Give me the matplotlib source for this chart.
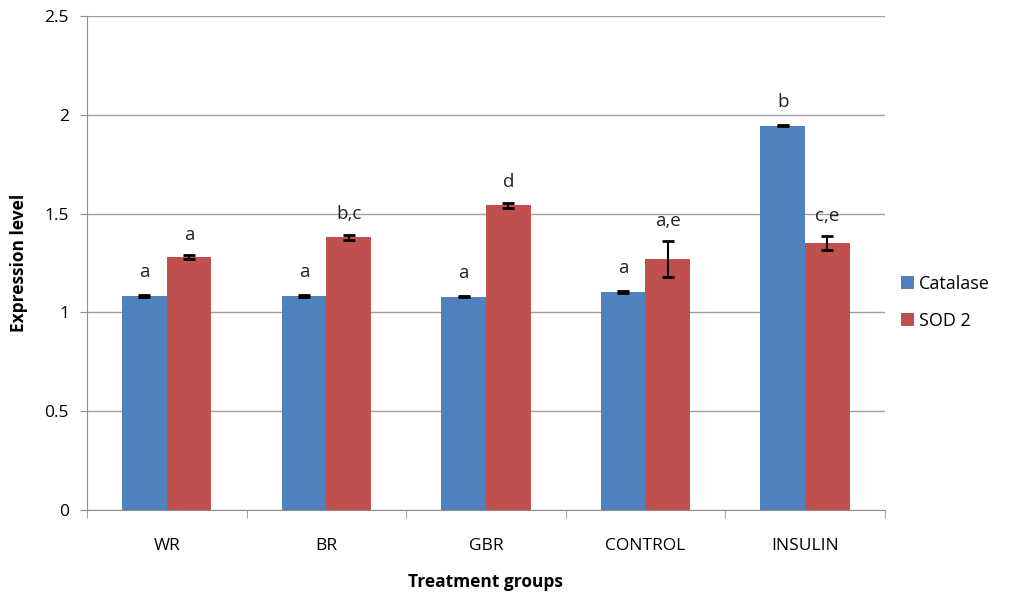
import matplotlib
matplotlib.use("Agg")
import matplotlib.pyplot as plt
import numpy as np

groups = ["WR", "BR", "GBR", "CONTROL", "INSULIN"]
catalase = [1.083, 1.082, 1.08, 1.103, 1.945]
catalase_err = [0.005, 0.005, 0.004, 0.006, 0.004]
sod2 = [1.28, 1.38, 1.542, 1.269, 1.35]
sod2_err = [0.012, 0.014, 0.014, 0.092, 0.035]
catalase_labels = ["a", "a", "a", "a", "b"]
sod2_labels = ["a", "b,c", "d", "a,e", "c,e"]

plt.rcParams['font.family'] = ['Open Sans', 'DejaVu Sans']

fig = plt.figure(figsize=(10.24, 5.95), dpi=100)
ax = fig.add_axes([0.085, 0.143, 0.779, 0.83])

x = np.arange(len(groups))
w = 0.28
blue = "#4F81BD"
red = "#C0504D"
ax.bar(x - w/2, catalase, w, color=blue, label="Catalase", zorder=2)
ax.bar(x + w/2, sod2, w, color=red, label="SOD 2", zorder=2)
ax.errorbar(x - w/2, catalase, yerr=catalase_err, fmt='none', ecolor='black',
            elinewidth=1.5, capsize=4, capthick=2, zorder=3)
ax.errorbar(x + w/2, sod2, yerr=sod2_err, fmt='none', ecolor='black',
            elinewidth=1.5, capsize=4, capthick=2, zorder=3)

for xi, v, e, lab in zip(x - w/2, catalase, catalase_err, catalase_labels):
    ax.annotate(lab, (xi, v + e), xytext=(0, 10), textcoords='offset points',
                ha='center', va='bottom', fontsize=13.5, color='#222222')
for xi, v, e, lab in zip(x + w/2, sod2, sod2_err, sod2_labels):
    ax.annotate(lab, (xi, v + e), xytext=(0, 8), textcoords='offset points',
                ha='center', va='bottom', fontsize=13.5, color='#222222')

ax.set_xlim(-0.5, len(groups) - 0.5)
ax.set_ylim(0, 2.5)
ax.set_yticks([0, 0.5, 1, 1.5, 2, 2.5])
ax.set_yticklabels(["0", "0.5", "1", "1.5", "2", "2.5"])
ax.yaxis.grid(True, color='#a0a0a0', linewidth=1, zorder=0)
ax.set_axisbelow(True)

ax.set_xticks(x)
ax.set_xticklabels(groups)
ax.tick_params(axis='x', length=0, pad=20, labelsize=12.5)
ax.set_xticks(np.arange(-0.5, len(groups)), minor=True)
ax.tick_params(axis='x', which='minor', length=6, color='#909090')
ax.tick_params(axis='y', length=5, color='#909090', labelsize=12.5, pad=8)

for s in ['top', 'right']:
    ax.spines[s].set_visible(False)
for s in ['left', 'bottom']:
    ax.spines[s].set_color('#909090')

ax.set_xlabel("Treatment groups", fontsize=12.5, fontweight='bold', labelpad=14)
ax.set_ylabel("Expression level", fontsize=12.5, fontweight='bold', labelpad=12)

ax.legend(loc='center left', bbox_to_anchor=(1.0, 0.42), frameon=False,
          fontsize=13, handlelength=0.7, handleheight=0.7, handletextpad=0.3,
          labelspacing=1.05)

fig.savefig("out.png", dpi=100)
